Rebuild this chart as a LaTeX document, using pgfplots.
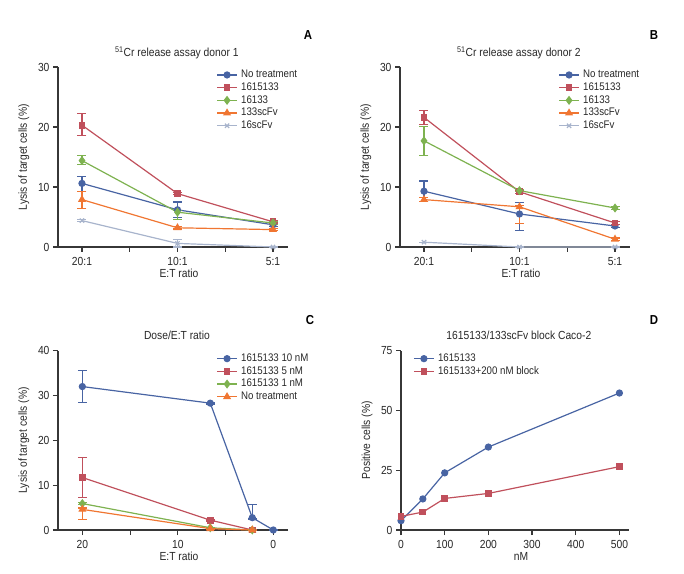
\documentclass[border=0pt]{standalone}
\usepackage{fontspec}
\setmainfont{Liberation Sans}[FakeStretch=0.88]
\usepackage{pgfplots}
\pgfplotsset{compat=1.18}
\definecolor{cblue}{RGB}{72,100,163}
\definecolor{cred}{RGB}{192,80,92}
\definecolor{cgreen}{RGB}{126,178,80}
\definecolor{corange}{RGB}{240,118,50}
\definecolor{cgrey}{RGB}{168,180,204}
\definecolor{axgray}{RGB}{55,55,55}
\definecolor{txt}{RGB}{40,40,40}
\newcommand{\fs}{\fontsize{11.7}{14}\selectfont}
\newcommand{\fl}{\fontsize{11}{13}\selectfont}
\pgfplotsset{
  panel/.style={
    scale only axis, width=230pt, height=180pt,
    axis lines=left, axis line style={-, line width=1.3pt, color=axgray},
    tick style={line width=1.1pt, color=axgray}, tick align=outside,
    major tick length=5pt, minor tick length=5pt,
    xtick pos=bottom, ytick pos=left,
    tick label style={font=\fs, text=txt},
    xticklabel style={yshift=-1.5pt},
    /pgf/number format/assume math mode=true,
    label style={font=\fs, text=txt},
    ylabel style={at={(axis description cs:-0.148,0.5)}, anchor=center},
    xlabel style={at={(axis description cs:0.526,0)}, yshift=-26pt, anchor=center},
    title style={font=\fs, text=txt, at={(axis description cs:0.517,1)}, anchor=center, yshift=8pt},
    legend style={draw=none, fill=none, font=\fl, text=txt, anchor=north west,
      nodes={inner sep=1pt, text height=7.5pt, text depth=2pt}, row sep=1.2pt, column sep=2.5pt},
    legend cell align=left,
    legend image code/.code={\draw[mark repeat=2,mark phase=2] plot coordinates {(0pt,0pt) (10pt,0pt) (20pt,0pt)};},
    clip=false,
    every axis plot/.append style={line width=1.2pt},
    error bars/y dir=both, error bars/y explicit,
    error bars/error bar style={line width=1.1pt},
    error bars/error mark options={rotate=90, mark size=4.5pt, line width=1.1pt},
  },
  sA/.style={color=cblue, mark=*, mark size=3pt, mark options={solid, fill=cblue}},
  sB/.style={color=cred, mark=square*, mark size=2.8pt, mark options={solid, fill=cred}},
  sC/.style={color=cgreen, mark=diamond*, mark size=3.6pt, mark options={solid, fill=cgreen}},
  sD/.style={color=corange, mark=triangle*, mark size=3.5pt, mark options={solid, fill=corange}},
  sE/.style={color=cgrey, mark=x, mark size=3pt, mark options={solid}},
}
\begin{document}
\begin{tikzpicture}
\path[use as bounding box] (0pt,0pt) rectangle (684pt,573pt);
% ---------- A ----------
\begin{axis}[panel, at={(58pt,326pt)}, anchor=south west,
  xmin=-0.251, xmax=2.157, ymin=0, ymax=30,
  xtick={0,1,2}, xticklabels={20:1,10:1,5:1}, minor xtick={0.5,1.5},
  ytick={0,10,20,30},
  title={\textsuperscript{51}Cr release assay donor 1},
  xlabel={E:T ratio}, ylabel={Lysis of target cells (\%)},
  legend style={at={(axis description cs:0.675,1.0)}}]
\addplot[sA] coordinates {(0,10.6) += (0,1.2) -= (0,1.3) (1,6.2) += (0,1.3) -= (0,1.3) (2,3.7) += (0,0.3) -= (0,0.3)};
\addplot[sB] coordinates {(0,20.3) += (0,1.9) -= (0,1.7) (1,8.9) += (0,0.2) -= (0,0.2) (2,4.2) += (0,0.2) -= (0,0.2)};
\addplot[sC] coordinates {(0,14.4) += (0,0.8) -= (0,0.7) (1,5.8) += (0,0.3) -= (0,1.2) (2,4.0) += (0,0.2) -= (0,0.2)};
\addplot[sD] coordinates {(0,7.9) += (0,1.4) -= (0,1.5) (1,3.2) += (0,0.2) -= (0,0.2) (2,2.9) += (0,0.2) -= (0,0.2)};
\addplot[sE] coordinates {(0,4.4) += (0,0.2) -= (0,0.2) (1,0.6) += (0,0.7) -= (0,0.6) (2,0) += (0,0) -= (0,0)};
\legend{No treatment,1615133,16133,133scFv,16scFv}
\end{axis}
% ---------- B ----------
\begin{axis}[panel, at={(400pt,326pt)}, anchor=south west,
  xmin=-0.251, xmax=2.157, ymin=0, ymax=30,
  xtick={0,1,2}, xticklabels={20:1,10:1,5:1}, minor xtick={0.5,1.5},
  ytick={0,10,20,30},
  title={\textsuperscript{51}Cr release assay donor 2},
  xlabel={E:T ratio}, ylabel={Lysis of target cells (\%)},
  legend style={at={(axis description cs:0.675,1.0)}}]
\addplot[sA] coordinates {(0,9.3) += (0,1.7) -= (0,1.7) (1,5.5) += (0,1.9) -= (0,2.7) (2,3.5) += (0,0.2) -= (0,0.2)};
\addplot[sB] coordinates {(0,21.6) += (0,1.2) -= (0,1.2) (1,9.2) += (0,0.3) -= (0,0.3) (2,4.0) += (0,0.2) -= (0,0.2)};
\addplot[sC] coordinates {(0,17.7) += (0,2.4) -= (0,2.4) (1,9.4) += (0,0.2) -= (0,0.2) (2,6.5) += (0,0.2) -= (0,0.2)};
\addplot[sD] coordinates {(0,7.9) += (0,0.3) -= (0,0.3) (1,6.7) += (0,0.2) -= (0,2.8) (2,1.3) += (0,0.2) -= (0,0.2)};
\addplot[sE] coordinates {(0,0.8) += (0,0) -= (0,0) (1,0) += (0,0) -= (0,0) (2,0) += (0,0) -= (0,0)};
\legend{No treatment,1615133,16133,133scFv,16scFv}
\end{axis}
% ---------- C ----------
\begin{axis}[panel, at={(58pt,43pt)}, anchor=south west, height=179.3pt,
  x dir=reverse, xmin=-1.54, xmax=22.55, ymin=0, ymax=40,
  xtick={0,10,20}, minor xtick={5,15},
  ytick={0,10,20,30,40},
  title={Dose/E:T ratio}, title style={yshift=1pt},
  xlabel={E:T ratio}, ylabel={Lysis of target cells (\%)},
  legend style={at={(axis description cs:0.675,1.0)}}]
\addplot[sA] coordinates {(20,32.0) += (0,3.5) -= (0,3.6) (6.6,28.3) += (0,0.2) -= (0,0.2) (2.2,2.75) += (0,3.0) -= (0,0.3) (0,0) += (0,0) -= (0,0)};
\addplot[sB] coordinates {(20,11.7) += (0,4.4) -= (0,4.5) (6.6,2.2) += (0,0.2) -= (0,0.2) (2.2,0) += (0,0) -= (0,0)};
\addplot[sC] coordinates {(20,5.9) += (0,0.2) -= (0,0.2) (6.6,0.5) += (0,0.1) -= (0,0.1) (2.2,0) += (0,0) -= (0,0)};
\addplot[sD] coordinates {(20,4.6) += (0,0.3) -= (0,2.3) (6.6,0.3) += (0,0.1) -= (0,0.1) (2.2,0) += (0,0) -= (0,0)};
\legend{1615133 10 nM,1615133 5 nM,1615133 1 nM,No treatment}
\end{axis}
% ---------- D ----------
\begin{axis}[panel, at={(401pt,43pt)}, anchor=south west, height=179.3pt, width=228pt,
  xmin=0, xmax=522, ymin=0, ymax=75,
  xtick={0,100,200,300,400,500},
  ytick={0,25,50,75},
  ylabel style={at={(axis description cs:-0.149,0.5)}},
  title={1615133/133scFv block Caco-2}, title style={yshift=1pt},
  xlabel={nM}, ylabel={Positive cells (\%)},
  legend style={at={(axis description cs:0.04,1.0)}}]
\addplot[sA, error bars/y explicit=false, error bars/y dir=none] coordinates {(0,3.9) (50,13.0) (100,23.9) (200,34.7) (500,57.3)};
\addplot[sB, error bars/y explicit=false, error bars/y dir=none] coordinates {(0,5.7) (50,7.5) (100,13.2) (200,15.3) (500,26.5)};
\legend{1615133,1615133+200 nM block}
\end{axis}
% panel letters
\node[font=\fontsize{13}{15}\selectfont\bfseries, text=black] at (308pt,538pt) {A};
\node[font=\fontsize{13}{15}\selectfont\bfseries, text=black] at (654pt,538pt) {B};
\node[font=\fontsize{13}{15}\selectfont\bfseries, text=black] at (310pt,253pt) {C};
\node[font=\fontsize{13}{15}\selectfont\bfseries, text=black] at (654pt,253pt) {D};
\end{tikzpicture}
\end{document}
